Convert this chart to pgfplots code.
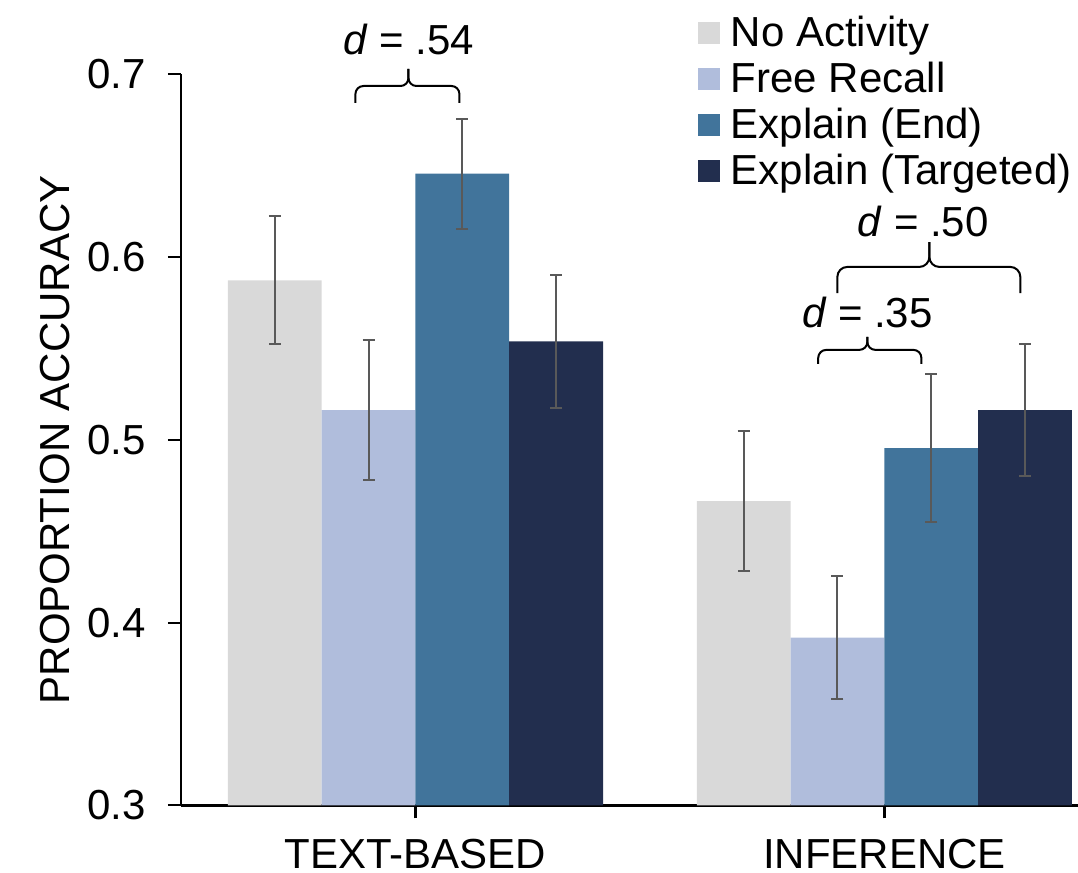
\documentclass[border=0pt]{standalone}
\usepackage{fontspec}
\setmainfont{Liberation Sans}
\usepackage{pgfplots}
\pgfplotsset{compat=1.18}
\definecolor{cNA}{HTML}{D9D9D9}
\definecolor{cFR}{HTML}{B0BDDC}
\definecolor{cEE}{HTML}{41749B}
\definecolor{cT}{HTML}{222E4E}
\definecolor{cErr}{HTML}{595959}
\pgfplotsset{
  errstyle/.style={error bars/.cd, y dir=both, y explicit,
    error bar style={line width=1pt, draw=cErr},
    error mark options={line width=1pt, draw=cErr, mark size=3pt, rotate=90}},
}
\begin{document}
\begin{tikzpicture}[font=\fontsize{21}{25}\selectfont]
\begin{axis}[
  name=ax,
  scale only axis, width=448.5pt, height=365.5pt,
  xmin=-0.5, xmax=1.413, ymin=0.3, ymax=0.7,
  axis lines*=left,
  x axis line style={line width=1.5pt},
  y axis line style={line width=1pt},
  tick align=outside, major tick length=6.5pt,
  xtick={0,1}, xticklabels={TEXT-BASED, INFERENCE},
  ytick={0.3,0.4,0.5,0.6,0.7},
  yticklabel style={/pgf/number format/fixed, /pgf/number format/precision=1, /pgf/number format/fixed zerofill, inner sep=0pt, xshift=-11pt},
  xticklabel style={inner sep=0pt, yshift=-10pt},
  /pgf/number format/assume math mode=true,
  x tick style={line width=1.5pt, black},
  y tick style={line width=1pt, black},
  ybar, bar width=0.2,
  ylabel={PROPORTION ACCURACY},
  ylabel style={at={(axis description cs:-0.1405,0.5)}, anchor=center},
  clip=false,
  legend cell align=left,
  legend image code/.code={\fill[#1] (0pt,-3.7pt) rectangle (11pt,7.3pt);},
  legend style={draw=none, fill=none, at={(axis description cs:0,1)}, anchor=north west,
    xshift=258.5pt, yshift=29.05pt, inner sep=0pt, row sep=3pt, column sep=5.25pt,
    nodes={inner sep=0pt, text height=15pt, text depth=5pt}},
]
\addplot[fill=cNA, draw=none, bar shift=-0.3, errstyle] coordinates {(0,0.5873) +- (0,0.035) (1,0.4665) +- (0,0.0384)};
\addplot[fill=cFR, draw=none, bar shift=-0.1, errstyle] coordinates {(0,0.5163) +- (0,0.0385) (1,0.3917) +- (0,0.0337)};
\addplot[fill=cEE, draw=none, bar shift=0.1, errstyle] coordinates {(0,0.6456) +- (0,0.030) (1,0.4955) +- (0,0.0404)};
\addplot[fill=cT, draw=none, bar shift=0.3, errstyle] coordinates {(0,0.5539) +- (0,0.0363) (1,0.5163) +- (0,0.036)};
\legend{No Activity, Free Recall, Explain (End), Explain (Targeted)}
% brace d = .54
\draw[line width=1pt, rounded corners=4pt] (axis cs:-0.128,0.6843) -- (axis cs:-0.128,0.6936) -- (axis cs:-0.0149,0.6936) -- (axis cs:-0.0149,0.7029);
\draw[line width=1pt, rounded corners=4pt] (axis cs:0.0938,0.6843) -- (axis cs:0.0938,0.6936) -- (axis cs:-0.0149,0.6936) -- (axis cs:-0.0149,0.7029);
\node[anchor=base, inner sep=0pt] at (axis cs:-0.015,0.7111) {\textit{d} = .54};
% brace d = .50
\draw[line width=1pt, rounded corners=5pt] (axis cs:0.8998,0.5802) -- (axis cs:0.8998,0.5946) -- (axis cs:1.096,0.5946) -- (axis cs:1.096,0.6082);
\draw[line width=1pt, rounded corners=5pt] (axis cs:1.29,0.5802) -- (axis cs:1.29,0.5946) -- (axis cs:1.096,0.5946) -- (axis cs:1.096,0.6082);
\node[anchor=base, inner sep=0pt] at (axis cs:1.083,0.6115) {\textit{d} = .50};
% brace d = .35
\draw[line width=1pt, rounded corners=4pt] (axis cs:0.859,0.5415) -- (axis cs:0.859,0.5492) -- (axis cs:0.9638,0.5492) -- (axis cs:0.9638,0.5563);
\draw[line width=1pt, rounded corners=4pt] (axis cs:1.079,0.5415) -- (axis cs:1.079,0.5492) -- (axis cs:0.9638,0.5492) -- (axis cs:0.9638,0.5563);
\node[anchor=base, inner sep=0pt] at (axis cs:0.9638,0.5612) {\textit{d} = .35};
\end{axis}
\pgfresetboundingbox
\path[use as bounding box] ([shift={(-90.5pt,-33.85pt)}]ax.south west) rectangle ([shift={(448.5pt,402.65pt)}]ax.south west);
\end{tikzpicture}
\end{document}
